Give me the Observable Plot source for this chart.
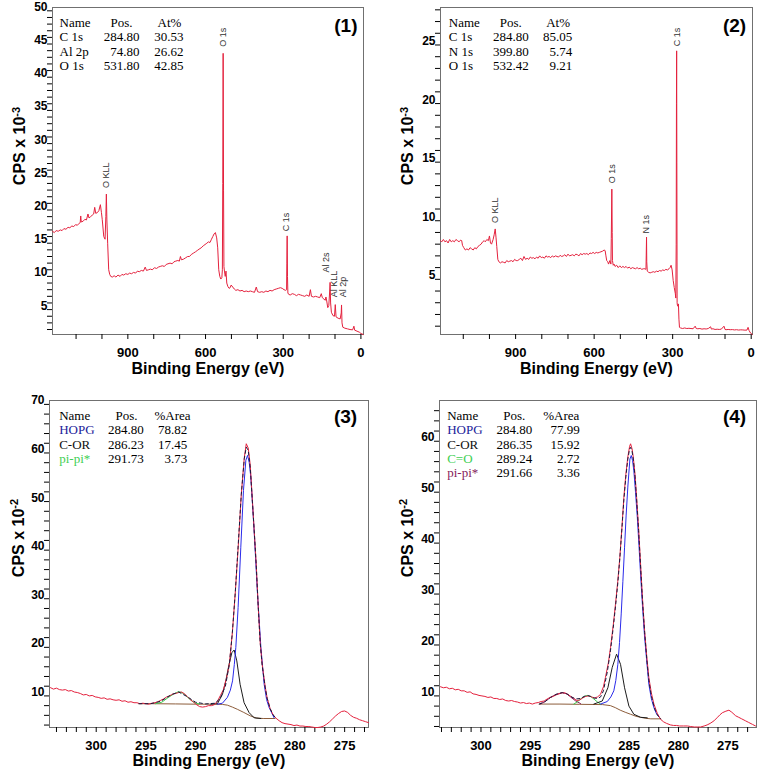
<!DOCTYPE html>
<html><head><meta charset="utf-8">
<script src="https://cdn.jsdelivr.net/npm/d3@7"></script>
<script src="https://cdn.jsdelivr.net/npm/@observablehq/plot@0.6"></script>
<style>
body{margin:0;background:#fff;}
#wrap{position:relative;width:758px;height:770px;background:#fff;overflow:hidden;}
#wrap > div{position:absolute;}
</style></head><body><div id="wrap">
<div id="p1" style="left:0;top:0"></div>
<div id="p2" style="left:379px;top:0"></div>
<div id="p3" style="left:0;top:385px"></div>
<div id="p4" style="left:379px;top:385px"></div>
</div>
<script>
// ---------------- DATA ----------------
// Panel (1) survey: [binding energy eV, CPS x 1e-3]
const survey1 = [[1191,16.8],[1184,16.6],[1177,16.9],[1169,16.8],[1161,17.0],[1154,16.9],[1147,17.2],[1139,17.1],[1131,17.4],[1124,17.3],[1117,17.6],[1109,17.5],[1102,17.8],[1095,17.7],[1088,18.0],[1084,18.1],[1082,19.1],[1080,18.2],[1073,18.3],[1066,18.6],[1060,18.5],[1054,19.4],[1050,18.8],[1044,19.0],[1038,19.2],[1032,19.4],[1028,20.4],[1024,19.5],[1018,19.6],[1012,19.9],[1006,20.8],[1002,19.6],[999,18.6],[993,16.0],[988,15.6],[985,19.0],[983,22.4],[981,18.5],[978,15.0],[974,11.0],[970,10.3],[966,10.0],[960,9.9],[953,10.1],[946,9.9],[938,10.2],[930,10.0],[923,10.3],[916,10.2],[908,10.4],[900,10.3],[893,10.5],[886,10.4],[878,10.6],[870,10.5],[863,10.8],[856,10.7],[848,10.9],[840,10.8],[833,11.4],[828,10.9],[820,11.0],[813,11.1],[806,11.0],[797,11.3],[789,11.2],[782,11.4],[775,11.5],[767,11.6],[759,11.5],[752,11.8],[745,11.9],[737,12.0],[729,11.9],[722,12.2],[715,12.3],[707,12.4],[701,12.3],[697,13.0],[693,12.5],[685,12.6],[677,12.8],[669,13.0],[662,13.0],[655,13.3],[647,13.5],[639,13.7],[632,13.9],[625,14.1],[617,14.3],[609,14.6],[602,14.8],[595,15.0],[589,15.2],[583,15.1],[577,15.6],[572,16.0],[567,16.4],[562,16.6],[557,15.8],[553,14.3],[549,11.0],[545,10.0],[541,9.6],[537,9.8],[535,11.0],[533.5,24],[532,43.6],[530.5,23],[529,11.5],[527,10.8],[524,10.0],[521,10.8],[518,9.0],[514,8.5],[509,8.2],[505,8.3],[501,8.7],[495,8.4],[489,8.1],[483,7.9],[475,8.0],[467,7.8],[459,7.9],[451,7.7],[443,7.8],[435,7.7],[427,7.8],[419,7.7],[411,7.6],[404,8.4],[399,7.7],[391,7.6],[383,7.7],[375,7.6],[367,7.8],[359,7.7],[351,7.9],[343,7.8],[335,8.0],[327,8.1],[319,8.2],[311,8.3],[304,8.2],[297,8.0],[291,7.9],[287,8.0],[286,12],[284.8,16.1],[283.5,10],[282,7.5],[279,7.3],[273,7.2],[265,7.4],[257,7.3],[249,7.1],[241,7.3],[233,7.2],[225,7.1],[217,7.0],[209,7.2],[200,7.0],[195,8.0],[191,7.0],[183,6.9],[175,7.0],[167,6.9],[159,6.8],[153,7.4],[149,6.8],[143,6.6],[138,6.4],[135,6.9],[132,6.3],[128,5.3],[124,5.6],[121,7.5],[119,9.1],[117,6.0],[114,4.6],[108,4.1],[102,4.0],[99,5.75],[96,3.9],[88,3.7],[80,3.6],[76,4.5],[74.8,5.7],[73,3.0],[70,2.35],[62,2.2],[52,2.1],[42,2.0],[32,1.95],[27,2.5],[24,1.9],[15,1.75],[6,1.6],[0,1.4],[-9,1.25]];

// Panel (2) survey
const survey2 = [[1187,8.3],[1182,8.2],[1176,8.4],[1170,8.2],[1164,8.3],[1158,8.1],[1152,8.4],[1146,8.2],[1140,8.3],[1134,8.2],[1128,8.4],[1122,8.3],[1116,8.2],[1110,8.35],[1106,8.3],[1103,7.9],[1098,7.7],[1092,7.5],[1086,7.6],[1080,7.5],[1074,7.7],[1068,7.6],[1062,7.5],[1056,7.7],[1050,7.6],[1044,7.8],[1038,7.9],[1032,8.0],[1026,8.2],[1020,8.3],[1016,8.2],[1010,8.4],[1004,8.3],[1000,8.7],[996,8.1],[992,8.0],[986,8.4],[982,8.8],[978,9.3],[975,8.6],[972,7.8],[968,6.7],[964,6.5],[958,6.4],[952,6.5],[946,6.45],[940,6.4],[934,6.6],[928,6.5],[922,6.55],[916,6.6],[910,6.5],[904,6.7],[898,6.6],[892,6.6],[886,6.7],[880,6.8],[874,6.6],[868,6.95],[862,6.7],[856,6.8],[850,6.7],[844,6.9],[838,6.8],[832,6.85],[826,6.75],[820,6.9],[814,6.8],[808,7.0],[802,6.85],[796,6.9],[790,6.8],[784,7.0],[778,6.9],[772,6.95],[766,6.85],[760,7.0],[754,6.9],[748,7.0],[742,6.95],[736,6.9],[730,7.05],[724,6.95],[718,7.0],[712,7.1],[706,6.95],[700,7.15],[694,7.0],[688,7.05],[682,7.1],[676,7.0],[670,7.15],[664,7.1],[658,7.0],[652,7.2],[646,7.1],[640,7.2],[634,7.15],[628,7.2],[622,7.1],[616,7.25],[610,7.2],[604,7.3],[598,7.2],[592,7.3],[586,7.25],[580,7.3],[574,7.35],[568,7.4],[562,7.5],[558,7.45],[555,7.0],[552,6.6],[548,6.5],[545,6.3],[540,6.6],[536,6.3],[534.5,8.5],[532.4,12.7],[531,9.0],[530,6.6],[527,6.2],[524,6.3],[520,6.1],[514,6.2],[508,6.0],[502,6.15],[496,6.0],[490,6.1],[484,6.0],[478,6.1],[472,5.95],[466,6.05],[460,5.9],[454,6.0],[448,5.95],[442,5.9],[436,6.0],[430,5.9],[424,5.95],[418,5.85],[412,5.9],[406,5.9],[402,5.85],[401,7.0],[399.8,8.6],[399,6.5],[397,5.7],[392,5.6],[386,5.55],[380,5.6],[374,5.65],[368,5.6],[362,5.7],[356,5.65],[350,5.75],[344,5.7],[338,5.8],[332,5.75],[326,5.85],[320,5.8],[314,5.9],[310,6.0],[306,6.2],[302,5.8],[298,4.9],[294,4.3],[290,3.8],[288,3.4],[286.5,8.0],[285.5,20],[284.8,24.5],[284,15],[283,3.0],[282,2.8],[280,2.7],[278,2.9],[276,1.6],[274,0.9],[270,0.85],[262,0.8],[254,0.85],[246,0.8],[238,0.82],[230,0.8],[222,0.78],[214,1.0],[210,0.8],[204,0.78],[196,0.8],[188,0.75],[180,0.78],[172,0.76],[164,0.8],[155,0.95],[152,0.75],[146,0.78],[138,0.72],[130,0.74],[122,0.72],[114,0.75],[104,1.0],[100,0.72],[96,0.7],[88,0.72],[80,0.7],[72,0.71],[64,0.68],[56,0.7],[48,0.67],[40,0.69],[32,0.68],[24,0.66],[16,0.67],[12,0.9],[8,0.62],[2,0.4],[-4,0.3]];

// Panel (3) C 1s high resolution, CPS x 1e-2
const hr3Data = [[304.6,11.7],[304.3,11.4],[304.0,11.6],[303.7,11.3],[303.4,11.2],[303.1,11.3],[302.8,11.0],[302.5,11.1],[302.2,10.8],[301.9,10.7],[301.6,10.5],[301.3,10.2],[301.0,10.3],[300.7,10.0],[300.4,10.1],[300.1,9.8],[299.8,9.7],[299.5,9.5],[299.2,9.6],[298.9,9.3],[298.6,9.4],[298.3,9.2],[298.0,9.1],[297.7,9.2],[297.4,8.9],[297.1,9.0],[296.8,8.7],[296.5,8.8],[296.2,8.6],[295.9,8.6],[295.6,8.4],[295.3,8.5],[295.0,8.4],[294.7,8.3],[294.4,8.5],[294.1,8.6],[293.8,8.8],[293.5,9.1],[293.2,9.4],[292.9,9.8],[292.6,10.0],[292.3,10.4],[292.0,10.5],[291.7,10.7],[291.4,10.8],[291.1,10.4],[290.8,9.8],[290.5,9.2],[290.2,8.7],[289.9,8.2],[289.6,7.8],[289.3,7.7],[289.0,7.8],[288.7,8.0],[288.4,8.0],[288.1,8.2],[287.8,8.9],[287.5,10.1],[287.2,11.3],[286.9,13.5],[286.6,16.6],[286.3,23.0],[286.0,31.4],[285.7,41.0],[285.4,51.5],[285.1,59.0],[284.9,61.9],[284.7,61.0],[284.5,57.5],[284.3,50.9],[284.1,44.0],[283.9,37.2],[283.7,28.5],[283.5,21.0],[283.3,16.5],[283.0,12.0],[282.8,9.6],[282.5,7.4],[282.2,6.1],[281.9,5.4],[281.6,4.9],[281.3,4.5],[281.0,4.3],[280.7,4.2],[280.4,4.1],[280.1,3.9],[279.8,4.0],[279.5,3.8],[279.2,3.8],[278.9,3.7],[278.6,3.7],[278.3,3.6],[278.0,3.5],[277.7,3.5],[277.4,3.6],[277.1,3.8],[276.8,4.2],[276.5,4.7],[276.2,5.3],[275.9,5.9],[275.6,6.4],[275.3,6.8],[275.0,6.9],[274.7,6.6],[274.4,6.0],[274.1,5.6],[273.8,5.4],[273.5,5.1],[273.2,4.9],[272.9,4.7],[272.6,4.5]];
const hr3Hopg = [[287.8,8.3],[287.3,8.5],[286.8,9.7],[286.5,11.2],[286.28,13.1],[286.1,16.5],[285.95,20.0],[285.72,28.2],[285.45,40.6],[285.18,52.3],[284.94,58.5],[284.77,59.5],[284.6,58.0],[284.44,55.0],[284.11,44.0],[283.77,31.0],[283.43,20.0],[283.1,12.4],[282.85,9.2],[282.6,7.6],[282.1,5.5]];
const hr3Cor = [[288.47,8.3],[287.8,8.4],[287.29,10.35],[286.96,13.1],[286.63,16.5],[286.35,18.9],[286.12,19.45],[285.85,17.2],[285.52,12.4],[285.12,8.6],[284.61,6.55],[284.11,5.5],[283.43,5.35]];
const hr3Pipi = [[294.0,8.4],[293.4,8.7],[292.8,9.6],[292.2,10.4],[291.7,10.9],[291.2,10.5],[290.8,9.7],[290.4,9.0],[290.0,8.5],[289.6,8.35]];
const hr3Bg = [[295.7,8.4],[294.5,8.4],[292.0,8.35],[290.0,8.3],[288.0,8.3],[287.3,8.25],[286.8,8.1],[286.3,7.7],[285.8,7.25],[285.15,6.6],[284.5,5.9],[283.9,5.45],[283.2,5.35],[282.0,5.35]];
const hr3Env = [[295.7,8.4],[294.5,8.4],[293.5,8.9],[292.5,10.2],[291.7,10.8],[290.8,9.8],[290.0,8.7],[289.0,8.35],[288.0,8.5],[287.5,9.6],[287.0,12.0],[286.6,16.5],[286.3,23.0],[286.0,31.5],[285.7,41.5],[285.4,51.5],[285.1,58.8],[284.9,61.2],[284.7,60.5],[284.5,57.0],[284.3,50.5],[284.1,44.0],[283.9,37.0],[283.7,28.5],[283.5,21.0],[283.3,16.3],[283.0,11.8],[282.8,9.5],[282.5,7.4],[282.2,6.1],[282.0,5.6]];

// Panel (4) C 1s high resolution, CPS x 1e-2
const hr4Data = [[304.1,11.8],[303.8,11.6],[303.5,11.7],[303.2,11.4],[302.9,11.5],[302.6,11.2],[302.3,11.3],[302.0,11.0],[301.7,11.0],[301.4,10.7],[301.1,10.8],[300.8,10.4],[300.5,10.3],[300.2,10.1],[299.9,10.0],[299.6,9.9],[299.3,9.7],[299.0,9.8],[298.7,9.5],[298.4,9.5],[298.1,9.3],[297.8,9.4],[297.5,9.1],[297.2,9.0],[296.9,9.1],[296.6,8.9],[296.3,8.8],[296.0,8.6],[295.7,8.7],[295.4,8.5],[295.1,8.6],[294.8,8.4],[294.5,8.6],[294.2,8.7],[293.9,8.9],[293.6,9.0],[293.3,9.4],[293.0,9.7],[292.7,9.9],[292.4,10.2],[292.1,10.4],[291.8,10.6],[291.5,10.6],[291.2,10.3],[290.9,9.9],[290.6,9.5],[290.3,9.1],[290.0,9.2],[289.7,9.6],[289.4,9.9],[289.1,10.0],[288.8,9.8],[288.5,9.6],[288.2,9.8],[287.9,10.3],[287.6,11.8],[287.4,13.6],[287.1,16.5],[286.88,19.5],[286.6,24.0],[286.38,28.0],[286.15,32.5],[285.94,37.2],[285.73,43.0],[285.53,49.0],[285.33,53.5],[285.13,56.9],[284.95,59.0],[284.85,59.5],[284.7,58.5],[284.58,56.9],[284.4,53.5],[284.24,49.0],[284.04,43.0],[283.84,35.9],[283.64,29.0],[283.43,22.8],[283.2,17.5],[283.0,13.6],[282.75,10.6],[282.49,8.4],[282.15,6.6],[281.81,5.4],[281.5,4.9],[281.2,4.6],[280.8,4.3],[280.5,4.2],[280.2,4.2],[279.9,4.1],[279.5,4.1],[279.1,4.1],[278.8,4.0],[278.4,3.9],[278.1,3.9],[277.76,3.9],[277.4,4.1],[277.1,4.3],[276.8,4.6],[276.41,5.1],[276.1,5.7],[275.8,6.3],[275.56,6.7],[275.2,7.0],[274.89,7.2],[274.6,6.8],[274.21,6.1],[273.9,5.8],[273.6,5.5],[273.2,5.1],[272.9,4.8],[272.5,4.4],[272.2,4.1]];
const hr4Hopg = [[287.89,8.4],[287.21,8.9],[286.85,9.8],[286.55,11.0],[286.35,13.0],[286.14,16.2],[285.97,20.5],[285.8,26.1],[285.63,32.5],[285.46,39.2],[285.3,45.5],[285.13,51.0],[284.92,56.5],[284.78,57.2],[284.65,56.2],[284.52,54.2],[284.35,50.0],[284.17,45.1],[284.0,39.5],[283.84,33.9],[283.64,27.5],[283.43,21.5],[283.2,16.5],[283.0,12.3],[282.75,9.5],[282.49,7.7],[282.25,6.6],[281.99,5.9]];
const hr4Cor = [[288.57,8.4],[287.72,9.0],[287.15,11.6],[286.71,15.6],[286.27,18.2],[285.87,16.2],[285.46,11.6],[285.02,8.0],[284.52,6.4],[283.84,5.8],[283.16,5.7]];
const hr4Co = [[290.6,8.4],[290.2,8.9],[289.92,9.4],[289.55,9.9],[289.24,10.1],[288.9,9.9],[288.57,9.4],[288.2,8.8],[287.89,8.4]];
const hr4Pipi = [[294.0,8.4],[293.5,8.9],[292.96,9.7],[292.4,10.3],[291.77,10.65],[291.3,10.4],[290.93,9.8],[290.4,9.0],[289.92,8.5]];
const hr4Bg = [[294.1,8.4],[292.0,8.4],[290.0,8.35],[287.7,8.3],[286.9,8.1],[286.4,7.7],[285.9,7.2],[285.4,6.8],[284.85,6.4],[284.3,6.0],[283.84,5.8],[283.3,5.6],[282.8,5.5],[281.8,5.5]];
const hr4Env = [[294.1,8.4],[293.5,8.9],[292.96,9.7],[292.4,10.3],[291.77,10.65],[291.3,10.4],[290.93,9.9],[290.4,9.4],[289.92,9.5],[289.55,9.9],[289.24,10.1],[288.9,9.9],[288.57,9.6],[288.2,9.5],[287.89,9.8],[287.6,11.0],[287.2,14.8],[286.88,19.0],[286.6,23.5],[286.38,27.5],[286.15,32.0],[285.94,37.0],[285.73,42.8],[285.53,48.5],[285.33,53.0],[285.13,56.5],[284.95,58.5],[284.85,58.8],[284.7,58.0],[284.58,56.5],[284.4,53.0],[284.24,48.5],[284.04,42.5],[283.84,35.5],[283.64,28.5],[283.43,22.5],[283.2,17.0],[283.0,13.0],[282.75,10.0],[282.49,8.0],[282.25,6.6],[282.0,5.9],[281.8,5.5]];

// Peak annotations on survey spectra
const peaks1 = [{label:"O KLL",x:982.6,y:23.3},{label:"O 1s",x:532.8,y:44.6},{label:"C 1s",x:287.6,y:16.8},{label:"Al 2s",x:134,y:10.6},{label:"Al KLL",x:104,y:6.85},{label:"Al 2p",x:67,y:6.85}];
const peaks2 = [{label:"O KLL",x:977,y:9.8},{label:"O 1s",x:531.5,y:13.2},{label:"N 1s",x:400.8,y:8.9},{label:"C 1s",x:282.2,y:24.9}];

// Quantification tables
const t1Names = ["C 1s","Al 2p","O 1s"], t1Pos = ["284.80","74.80","531.80"], t1Val = ["30.53","26.62","42.85"];
const t2Names = ["C 1s","N 1s","O 1s"], t2Pos = ["284.80","399.80","532.42"], t2Val = ["85.05","5.74","9.21"];
const t3Names = ["HOPG","C-OR","pi-pi*"], t3Pos = ["284.80","286.23","291.73"], t3Val = ["78.82","17.45","3.73"];
const t4Names = ["HOPG","C-OR","C=O","pi-pi*"], t4Pos = ["284.80","286.35","289.24","291.66"], t4Val = ["77.99","15.92","2.72","3.36"];

// Ticks
const surveyXTicks = [0,100,200,300,400,500,600,700,800,900,1000,1100];
const surveyXLabels = [0,300,600,900];
const hrXTicks = d3.range(273, 305, 1);
const hrXLabels = [275,280,285,290,295,300];
const y1Ticks = d3.range(2, 51, 1), y1Labels = [5,10,15,20,25,30,35,40,45,50];
const y2Ticks = d3.range(1, 29, 1), y2Labels = [5,10,15,20,25];
const y3Ticks = d3.range(4, 71, 2), y3Labels = [10,20,30,40,50,60,70];
const y4Ticks = d3.range(4, 68, 2), y4Labels = [10,20,30,40,50,60];

// ---------------- STYLE ----------------
const SANS = "'Liberation Sans', Arial, Helvetica, sans-serif";
const SERIF = "'Liberation Serif', 'Times New Roman', serif";
const RED = "#e4213d", BLUE = "#2b2bea", DARK = "#1c1c1c", GREEN = "#3ccf4e", BROWN = "#8d5d3b", PURPLE = "#861c5c";

function tableMarks(header, names, pos, vals, colors, cx, dy) {
  const base = {frameAnchor:"top-left", lineAnchor:"bottom", fontFamily:SERIF, fontSize:13, fontWeight:"normal"};
  const m = [
    Plot.text([header[0]], {...base, dx:cx[0], dy:dy[0]}),
    Plot.text([header[1]], {...base, dx:cx[1], dy:dy[0]}),
    Plot.text([header[2]], {...base, dx:cx[3], dy:dy[0]})
  ];
  names.forEach((n, i) => {
    m.push(Plot.text([n], {...base, dx:cx[0], dy:dy[i+1], fill:colors[i]}));
    m.push(Plot.text([pos[i]], {...base, dx:cx[2], dy:dy[i+1], textAnchor:"end"}));
    m.push(Plot.text([vals[i]], {...base, dx:cx[4], dy:dy[i+1], textAnchor:"end"}));
  });
  return m;
}

function line(data, stroke, extra = {}) {
  return Plot.line(data, {x: d => d[0], y: d => d[1], stroke, strokeWidth: 1, ...extra});
}

function panel(c) {
  const svg = Plot.plot({
    width: 379, height: 385,
    marginTop: c.m[0], marginRight: c.m[1], marginBottom: c.m[2], marginLeft: c.m[3],
    x: {domain: c.xDomain},
    y: {domain: c.yDomain},
    style: {background: "transparent", color: "#000", overflow: "visible"},
    marks: [
      Plot.frame({stroke: "#707070"}),
      Plot.axisX(c.xTicks, {anchor:"bottom", label:null, tickSize:5, tickPadding:8,
        tickFormat: d => c.xLabels.includes(d) ? String(d) : "",
        fontSize:13, fontWeight:"bold", fontFamily:SANS}),
      Plot.axisY(c.yTicks, {anchor:"left", label:null, tickSize:5, tickPadding:0, lineAnchor:"bottom",
        tickFormat: d => c.yLabels.includes(d) ? String(d) : "",
        fontSize:12, fontWeight:"bold", fontFamily:SANS}),
      Plot.text(["Binding Energy (eV)"], {frameAnchor:"bottom", dy:c.xLabelDy, lineAnchor:"bottom",
        fontSize:16, fontWeight:"bold", fontFamily:SANS}),
      Plot.text([c.tag], {frameAnchor:"top-right", textAnchor:"end", lineAnchor:"bottom",
        dx:c.tagPos[0], dy:c.tagPos[1], fontSize:19, fontWeight:"bold", fontFamily:SANS}),
      ...c.table,
      ...c.lines,
      ...(c.peaks ? [Plot.text(c.peaks, {x:"x", y:"y", text:"label", rotate:-90, textAnchor:"start",
        fontSize:9, fontFamily:SANS, fill:"#333"})] : [])
    ]
  });
  // y-axis title with superscript exponent
  const t = d3.select(svg).append("text")
    .attr("transform", `translate(${c.yTitle[0]},${c.yTitle[1]}) rotate(-90)`)
    .attr("text-anchor", "middle")
    .attr("font-family", SANS).attr("font-size", 16).attr("font-weight", "bold").attr("fill", "#000");
  t.append("tspan").text("CPS x 10");
  t.append("tspan").attr("dy", "-0.5em").attr("font-size", 11).text(c.exp);
  document.getElementById(c.id).appendChild(svg);
}

panel({
  id:"p1", m:[7,16,51,52], xDomain:[1191,-10], yDomain:[1.25,50.5],
  xTicks:surveyXTicks, xLabels:surveyXLabels, yTicks:y1Ticks, yLabels:y1Labels,
  xLabelDy:39, tag:"(1)", tagPos:[-6,24], yTitle:[25,146], exp:"-3",
  table: tableMarks(["Name","Pos.","At%"], t1Names, t1Pos, t1Val, ["#000","#000","#000"], [7,58,87,105,131], [19,33.5,48,62.5]),
  lines: [line(survey1, RED)],
  peaks: peaks1
});
panel({
  id:"p2", m:[7,6,51,61], xDomain:[1187,-5], yDomain:[0.29,28.2],
  xTicks:surveyXTicks, xLabels:surveyXLabels, yTicks:y2Ticks, yLabels:y2Labels,
  xLabelDy:39, tag:"(2)", tagPos:[-6.3,24], yTitle:[34.3,146], exp:"-3",
  table: tableMarks(["Name","Pos.","At%"], t2Names, t2Pos, t2Val, ["#000","#000","#000"], [8.3,59.3,88.3,105.7,131.7], [19,33.5,48,62.5]),
  lines: [line(survey2, RED)],
  peaks: peaks2
});
panel({
  id:"p3", m:[15,11,43,49], xDomain:[304.7,272.6], yDomain:[3.5,70.8],
  xTicks:hrXTicks, xLabels:hrXLabels, yTicks:y3Ticks, yLabels:y3Labels,
  xLabelDy:38, tag:"(3)", tagPos:[-11.3,22.3], yTitle:[23.5,153], exp:"-2",
  table: tableMarks(["Name","Pos.","%Area"], t3Names, t3Pos, t3Val, ["#22229a","#111","#3fcf55"], [9.7,66,94.3,105,137.7], [19.3,33.5,48,62]),
  lines: [line(hr3Bg, BROWN), line(hr3Pipi, GREEN), line(hr3Cor, DARK), line(hr3Hopg, BLUE),
          line(hr3Data, RED), line(hr3Env, "#1a1a40", {strokeDasharray:"3,3"})]
});
panel({
  id:"p4", m:[15,2,43,60], xDomain:[304.2,272.1], yDomain:[3.8,68],
  xTicks:hrXTicks, xLabels:hrXLabels, yTicks:y4Ticks, yLabels:y4Labels,
  xLabelDy:38, tag:"(4)", tagPos:[-10.3,22.3], yTitle:[33.5,153], exp:"-2",
  table: tableMarks(["Name","Pos.","%Area"], t4Names, t4Pos, t4Val, ["#22229a","#111","#3fcf55",PURPLE], [7.7,63.7,92.7,103.7,140.3], [19.3,33.3,48.3,62.3,76.7]),
  lines: [line(hr4Bg, BROWN), line(hr4Pipi, PURPLE), line(hr4Co, GREEN), line(hr4Cor, DARK), line(hr4Hopg, BLUE),
          line(hr4Data, RED), line(hr4Env, "#1a1a40", {strokeDasharray:"3,3"})]
});
</script>
</body></html>
